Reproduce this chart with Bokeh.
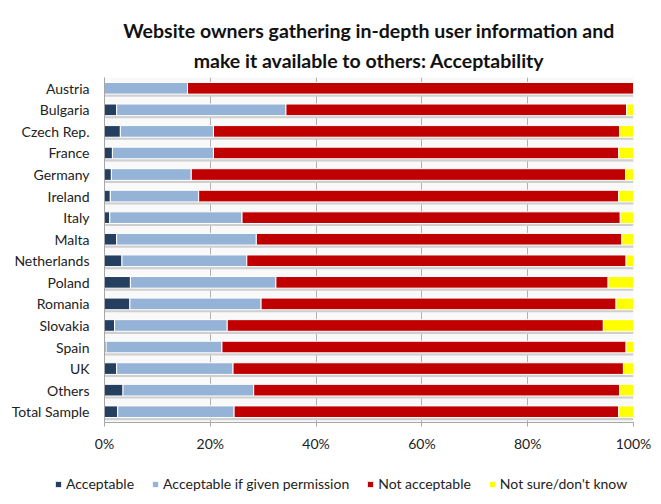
from bokeh.plotting import figure
from bokeh.layouts import column
from bokeh.models import FactorRange, Range1d, Legend, LegendItem, Title, FixedTicker, PrintfTickFormatter, ColumnDataSource
from bokeh.transform import dodge
from bokeh.embed import file_html
from bokeh.resources import INLINE

countries = ["Austria", "Bulgaria", "Czech Rep.", "France", "Germany", "Ireland", "Italy", "Malta",
             "Netherlands", "Poland", "Romania", "Slovakia", "Spain", "UK", "Others", "Total Sample"]
acceptable = [0.0, 2.3, 3.0, 1.5, 1.3, 1.1, 1.0, 2.3, 3.3, 4.9, 4.8, 1.9, 0.3, 2.3, 3.5, 2.5]
acc_perm = [15.7, 32.0, 17.6, 19.1, 15.1, 16.7, 25.0, 26.4, 23.6, 27.5, 24.8, 21.3, 21.9, 22.0, 24.7, 22.0]
not_acc = [84.3, 64.4, 76.8, 76.6, 82.1, 79.4, 71.5, 69.1, 71.7, 62.8, 67.1, 71.1, 76.4, 73.8, 69.2, 72.7]
not_sure = [0.0, 3.3, 2.6, 2.8, 1.5, 2.8, 2.5, 2.2, 1.4, 4.8, 3.3, 5.7, 1.4, 1.9, 2.6, 2.8]
series_names = ["Acceptable", "Acceptable if given permission", "Not acceptable", "Not sure/don't know"]
colors = ["#243F60", "#95B3D7", "#C00000", "#FFFF00"]
x_ticks = [0, 20, 40, 60, 80, 100]

FONT = "Lato"

totals = [a + b + c + d for a, b, c, d in zip(acceptable, acc_perm, not_acc, not_sure)]
source = ColumnDataSource(dict(country=countries, a=acceptable, b=acc_perm, c=not_acc, d=not_sure,
                               total=totals))

p = figure(y_range=FactorRange(*reversed(countries)), x_range=Range1d(0, 100),
           width=653, height=460, output_backend="svg", toolbar_location=None,
           min_border_left=104, min_border_right=20, min_border_top=0, min_border_bottom=38)

# soft shadow under each bar
p.hbar(y=dodge("country", -0.33, range=p.y_range), left=0, right="total", height=0.12,
       color="#cfcfcf", line_color=None, source=source)

renderers = p.hbar_stack(["a", "b", "c", "d"], y="country", height=0.54, color=colors,
                         line_color="white", line_width=1, source=source)

p.add_layout(Title(text="make it available to others: Acceptability", align="center",
                   text_font=FONT, text_font_size="19.5px", text_font_style="bold",
                   text_color="#111111", standoff=11), "above")
p.add_layout(Title(text="Website owners gathering in-depth user information and", align="center",
                   text_font=FONT, text_font_size="19.5px", text_font_style="bold",
                   text_color="#111111", standoff=0), "above")
p.add_layout(Title(text=" ", text_font_size="12px", standoff=0), "above")

p.xaxis.ticker = FixedTicker(ticks=x_ticks)
p.xaxis.formatter = PrintfTickFormatter(format="%d%%")
p.xaxis.axis_line_color = "#a6a6a6"
p.xaxis.major_tick_line_color = "#a6a6a6"
p.xaxis.major_tick_in = 0
p.xaxis.major_tick_out = 4
p.xaxis.minor_tick_line_color = None
p.xaxis.major_label_standoff = 8
p.yaxis.axis_line_color = "#a6a6a6"
p.yaxis.major_tick_line_color = None
p.yaxis.major_label_standoff = 9
for ax in (p.xaxis, p.yaxis):
    ax.major_label_text_font = FONT
    ax.major_label_text_font_size = "14px"
    ax.major_label_text_color = "#222222"

p.ygrid.grid_line_color = None
p.xgrid.grid_line_color = "#b0b0b0"
p.outline_line_color = None
p.background_fill_color = "#f9f9f9"

# legend strip below the chart
lg = figure(width=653, height=36, output_backend="svg", toolbar_location=None,
            y_range=FactorRange(*reversed(countries)), x_range=Range1d(0, 100),
            min_border_left=0, min_border_right=0, min_border_top=0, min_border_bottom=0)
lg.axis.visible = False
lg.grid.visible = False
lg.outline_line_color = None
for fig in (p, lg):
    if "frame_align" in fig.properties():
        fig.frame_align = False
key_renderers = lg.hbar_stack(["a", "b", "c", "d"], y="country", height=0.54, color=colors,
                              line_color="white", line_width=1, source=source)
for r in key_renderers:
    r.visible = False
legend = Legend(items=[LegendItem(label=n, renderers=[r]) for n, r in zip(series_names, key_renderers)],
                orientation="horizontal", location=(54, 4), label_text_font=FONT,
                label_text_font_size="14px", label_text_color="#222222",
                glyph_width=8, glyph_height=8, label_standoff=4, spacing=17,
                border_line_color=None, background_fill_alpha=0, padding=4, margin=0,
                inactive_fill_alpha=0)
lg.add_layout(legend, "center")

layout = column(p, lg, spacing=0)
open("out.html", "w").write(file_html(layout, INLINE))
